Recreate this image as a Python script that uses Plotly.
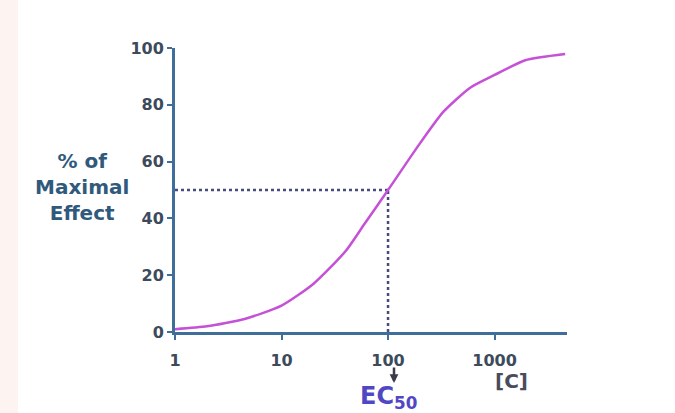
import plotly.graph_objects as go

conc = [1, 2, 4.5, 10, 20, 40, 60, 100, 200, 330, 590, 1000, 1940, 4600]
effect = [1, 2, 4.6, 9.3, 17, 28.5, 38, 50, 66.5, 77.5, 86, 90.5, 95.7, 97.9]
ec50_x = 100
ec50_y = 50
x_ticks = [1, 10, 100, 1000]
y_ticks = [0, 20, 40, 60, 80, 100]

axis_col = "#3f6e9b"
tick_font = dict(family="DejaVu Sans", size=16, color="#3c4a5c")

fig = go.Figure()
fig.add_trace(go.Scatter(x=[1, ec50_x], y=[ec50_y, ec50_y], mode="lines",
                         line=dict(color="#464c7e", width=2.5, dash="dot"),
                         showlegend=False, hoverinfo="skip"))
fig.add_trace(go.Scatter(x=[ec50_x, ec50_x], y=[0, ec50_y], mode="lines",
                         line=dict(color="#464c7e", width=2.5, dash="dot"),
                         showlegend=False, hoverinfo="skip"))
fig.add_trace(go.Scatter(x=conc, y=effect, mode="lines",
                         line=dict(color="#c552d6", width=2.5, shape="spline", smoothing=0.6),
                         showlegend=False))

fig.add_shape(type="rect", xref="paper", yref="paper", x0=-175/392, x1=-157/392,
              y0=-81/284, y1=1 + 48/284, fillcolor="#fdf4f2", line_width=0, layer="below")

fig.update_xaxes(type="log", range=[0, 3.68], tickvals=x_ticks,
                 ticktext=["<b>%d</b>" % v for v in x_ticks],
                 showline=True, linecolor=axis_col, linewidth=3,
                 ticks="outside", ticklen=5, tickwidth=2, tickcolor=axis_col,
                 ticklabelstandoff=7,
                 showgrid=False, zeroline=False, tickfont=tick_font)
fig.update_yaxes(range=[0, 100], tickvals=y_ticks,
                 ticktext=["<b>%d</b>" % v for v in y_ticks],
                 showline=True, linecolor=axis_col, linewidth=3,
                 ticks="outside", ticklen=5, tickwidth=2, tickcolor=axis_col,
                 showgrid=False, zeroline=False, tickfont=tick_font)

fig.add_annotation(xref="paper", yref="paper", x=-93/392, y=(332-187)/284,
                   xanchor="center", yanchor="middle",
                   text="<b>% of<br>Maximal<br>Effect</b>", showarrow=False,
                   font=dict(family="DejaVu Sans", size=20, color="#2f5a7c"),
                   align="center")
fig.add_annotation(xref="paper", yref="paper", x=(511-175)/392, y=(332-381)/284,
                   xanchor="center", yanchor="middle",
                   text="<b>[C]</b>", showarrow=False,
                   font=dict(family="DejaVu Sans", size=20, color="#4a4c5c"))
fig.add_annotation(xref="paper", yref="paper", x=(388-175)/392, y=(332-397)/284,
                   xanchor="center", yanchor="middle",
                   text="<b>EC<sub>50</sub></b>", showarrow=False,
                   font=dict(family="DejaVu Sans", size=24, color="#5147c4"))
fig.add_annotation(xref="paper", yref="paper", x=(394-175)/392, y=(332-383)/284,
                   ax=0, ay=-17, text="", showarrow=True, arrowhead=2,
                   arrowsize=0.7, arrowwidth=2.5, arrowcolor="#3a3a4a")

fig.update_layout(width=675, height=413, margin=dict(l=175, r=108, t=48, b=81),
                  plot_bgcolor="white", paper_bgcolor="white")

fig.write_html("out.html")
